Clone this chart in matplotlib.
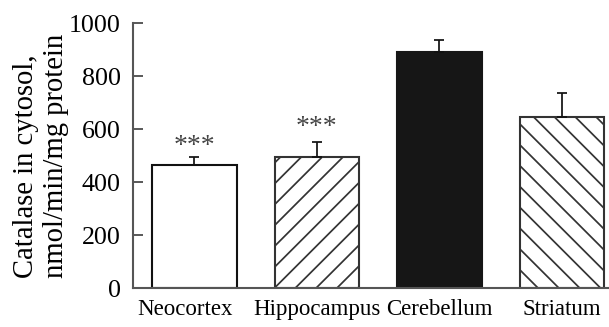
import matplotlib
matplotlib.use("Agg")
import matplotlib.pyplot as plt
from matplotlib.transforms import ScaledTranslation

categories = ["Neocortex", "Hippocampus", "Cerebellum", "Striatum"]
values = [467, 497, 890, 647]
errors = [27, 56, 47, 89]
stars = ["***", "***", "", ""]
star_y = [535, 605, None, None]
yticks = [0, 200, 400, 600, 800, 1000]

plt.rcParams['font.family'] = ['Liberation Serif', 'DejaVu Serif']
plt.rcParams['hatch.linewidth'] = 1.0

dpi = 125
fig = plt.figure(figsize=(609 / dpi, 327 / dpi), dpi=dpi)
ax = fig.add_axes([133 / 609, 1 - 288.3 / 327, (608 - 133) / 609, (288.3 - 23.3) / 327])

x = list(range(len(categories)))
faces = ["white", "white", "#161616", "white"]
hatches = [None, "//", None, "\\\\"]
edges = ["#111111", "#333333", "#161616", "#333333"]
for xi, v, fc, h, ec in zip(x, values, faces, hatches, edges):
    ax.bar(xi, v, width=0.69, color=fc, hatch=h, edgecolor=ec, linewidth=1.2, zorder=2)

ax.errorbar(x, values, yerr=[[0] * len(values), errors], fmt="none", ecolor="#111111",
            elinewidth=1.0, capsize=2.6, capthick=1.0, zorder=3)

for xi, s, sy in zip(x, stars, star_y):
    if s:
        ax.text(xi, sy, s, ha="center", va="center", fontsize=16, color="#444444")

ax.set_xlim(-0.5, 3.375)
ax.set_ylim(0, 1000)
ax.set_yticks(yticks)
ax.set_xticks(x)
ax.set_xticklabels(categories, fontsize=13.2)
ax.tick_params(axis="y", direction="in", length=6, width=1.0, pad=7, labelsize=15, color="#444444")
ax.tick_params(axis="x", direction="in", length=6, width=1.0, pad=6, color="#333333")
lbl0 = ax.get_xticklabels()[0]
lbl0.set_transform(lbl0.get_transform() + ScaledTranslation(-9 / dpi, 0, fig.dpi_scale_trans))
for s in ["top", "right"]:
    ax.spines[s].set_visible(False)
for s in ["left", "bottom"]:
    ax.spines[s].set_color("#555555")
    ax.spines[s].set_linewidth(1.2)

ax.set_ylabel("Catalase in cytosol,\nnmol/min/mg protein", fontsize=16.5, labelpad=0, linespacing=1.2)
ax.yaxis.label.set_multialignment("left")

fig.savefig("out.png", dpi=dpi)
